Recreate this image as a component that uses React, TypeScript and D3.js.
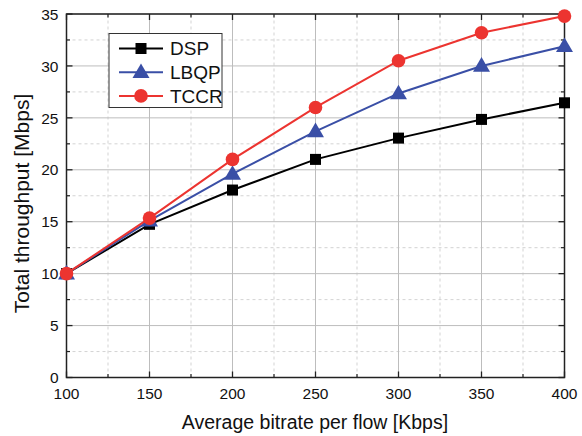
import React from "react";
import * as d3 from "d3";

const xValues = [100, 150, 200, 250, 300, 350, 400];
const dsp = [10, 14.75, 18.05, 21.0, 23.05, 24.85, 26.45];
const lbqp = [10, 15.1, 19.6, 23.7, 27.35, 30.0, 31.9];
const tccr = [10, 15.35, 21.0, 26.0, 30.5, 33.2, 34.8];
const xTicks = [100, 150, 200, 250, 300, 350, 400];
const yTicks = [0, 5, 10, 15, 20, 25, 30, 35];
const xMinor = [125, 175, 225, 275, 325, 375];
const yMinor = [2.5, 7.5, 12.5, 17.5, 22.5, 27.5, 32.5];

const series = [
  { name: "DSP", values: dsp, color: "#000000", marker: "square" },
  { name: "LBQP", values: lbqp, color: "#3a4fa6", marker: "triangle" },
  { name: "TCCR", values: tccr, color: "#ec3430", marker: "circle" },
];

const W = 582, H = 436;
const m = { left: 66.5, right: 17.5, top: 14, bottom: 58.5 };
const font = "'Liberation Sans', Arial, sans-serif";

function Marker({ type, x, y, color }: { type: string; x: number; y: number; color: string }) {
  if (type === "square") return <rect x={x - 5.5} y={y - 5.5} width={11} height={11} fill={color} />;
  if (type === "circle") return <circle cx={x} cy={y} r={6.8} fill={color} />;
  const s = d3.symbol(d3.symbolTriangle, 125)();
  return <path d={s || ""} transform={`translate(${x},${y + 1})`} fill={color} />;
}

export default function App() {
  const x = d3.scaleLinear().domain([100, 400]).range([m.left, W - m.right]);
  const y = d3.scaleLinear().domain([0, 35]).range([H - m.bottom, m.top]);
  const line = d3.line<number>().x((_, i) => x(xValues[i])).y((d) => y(d));
  const x0 = x.range()[0], x1 = x.range()[1], y0 = y.range()[0], y1 = y.range()[1];
  return (
    <svg width={W} height={H} style={{ position: "absolute", left: 0, top: 0 }} fontFamily={font}>
      <rect width={W} height={H} fill="#fff" />
      {xMinor.map((v) => (
        <line key={"xm" + v} x1={x(v)} x2={x(v)} y1={y0} y2={y1} stroke="#c8c8c8" strokeWidth={0.8} strokeDasharray="3,3" />
      ))}
      {yMinor.map((v) => (
        <line key={"ym" + v} x1={x0} x2={x1} y1={y(v)} y2={y(v)} stroke="#c8c8c8" strokeWidth={0.8} strokeDasharray="3,3" />
      ))}
      {xTicks.map((v) => (
        <line key={"xg" + v} x1={x(v)} x2={x(v)} y1={y0} y2={y1} stroke="#bdbdbd" strokeWidth={1} />
      ))}
      {yTicks.map((v) => (
        <line key={"yg" + v} x1={x0} x2={x1} y1={y(v)} y2={y(v)} stroke="#bdbdbd" strokeWidth={1} />
      ))}
      {xTicks.map((v) => (
        <g key={"xt" + v}>
          <line x1={x(v)} x2={x(v)} y1={y0} y2={y0 - 6} stroke="#222" strokeWidth={1.3} />
          <line x1={x(v)} x2={x(v)} y1={y1} y2={y1 + 6} stroke="#222" strokeWidth={1.3} />
          <text x={x(v)} y={y0 + 21.5} textAnchor="middle" fontSize={15.5} fill="#111">{v}</text>
        </g>
      ))}
      {xMinor.map((v) => (
        <g key={"xmt" + v}>
          <line x1={x(v)} x2={x(v)} y1={y0} y2={y0 - 3.5} stroke="#222" strokeWidth={1.2} />
          <line x1={x(v)} x2={x(v)} y1={y1} y2={y1 + 3.5} stroke="#222" strokeWidth={1.2} />
        </g>
      ))}
      {yTicks.map((v) => (
        <g key={"yt" + v}>
          <line x1={x0} x2={x0 + 6} y1={y(v)} y2={y(v)} stroke="#222" strokeWidth={1.3} />
          <line x1={x1} x2={x1 - 6} y1={y(v)} y2={y(v)} stroke="#222" strokeWidth={1.3} />
          <text x={x0 - 8} y={y(v) + 5.7} textAnchor="end" fontSize={15.5} fill="#111">{v}</text>
        </g>
      ))}
      {yMinor.map((v) => (
        <g key={"ymt" + v}>
          <line x1={x0} x2={x0 + 3.5} y1={y(v)} y2={y(v)} stroke="#222" strokeWidth={1.2} />
          <line x1={x1} x2={x1 - 3.5} y1={y(v)} y2={y(v)} stroke="#222" strokeWidth={1.2} />
        </g>
      ))}
      <rect x={x0} y={y1} width={x1 - x0} height={y0 - y1} fill="none" stroke="#222" strokeWidth={1.5} />
      {series.map((s) => (
        <g key={s.name}>
          <path d={line(s.values) || ""} fill="none" stroke={s.color} strokeWidth={2} />
          {s.values.map((v, i) => (
            <Marker key={i} type={s.marker} x={x(xValues[i])} y={y(v)} color={s.color} />
          ))}
        </g>
      ))}
      <rect x={109} y={33.5} width={113} height={74} fill="#fff" stroke="#333" strokeWidth={1} />
      {series.map((s, i) => {
        const ly = 48.5 + i * 23.7;
        return (
          <g key={"lg" + s.name}>
            <line x1={119} x2={163} y1={ly} y2={ly} stroke={s.color} strokeWidth={2} />
            <Marker type={s.marker} x={141} y={ly} color={s.color} />
            <text x={170} y={ly + 6.8} fontSize={19} fill="#111">{s.name}</text>
          </g>
        );
      })}
      <text x={315} y={429} textAnchor="middle" fontSize={19.5} fill="#111">
        Average bitrate per flow [Kbps]
      </text>
      <text transform={`translate(28.5,203.5) rotate(-90)`} textAnchor="middle" fontSize={21} fill="#111">
        Total throughput [Mbps]
      </text>
    </svg>
  );
}
